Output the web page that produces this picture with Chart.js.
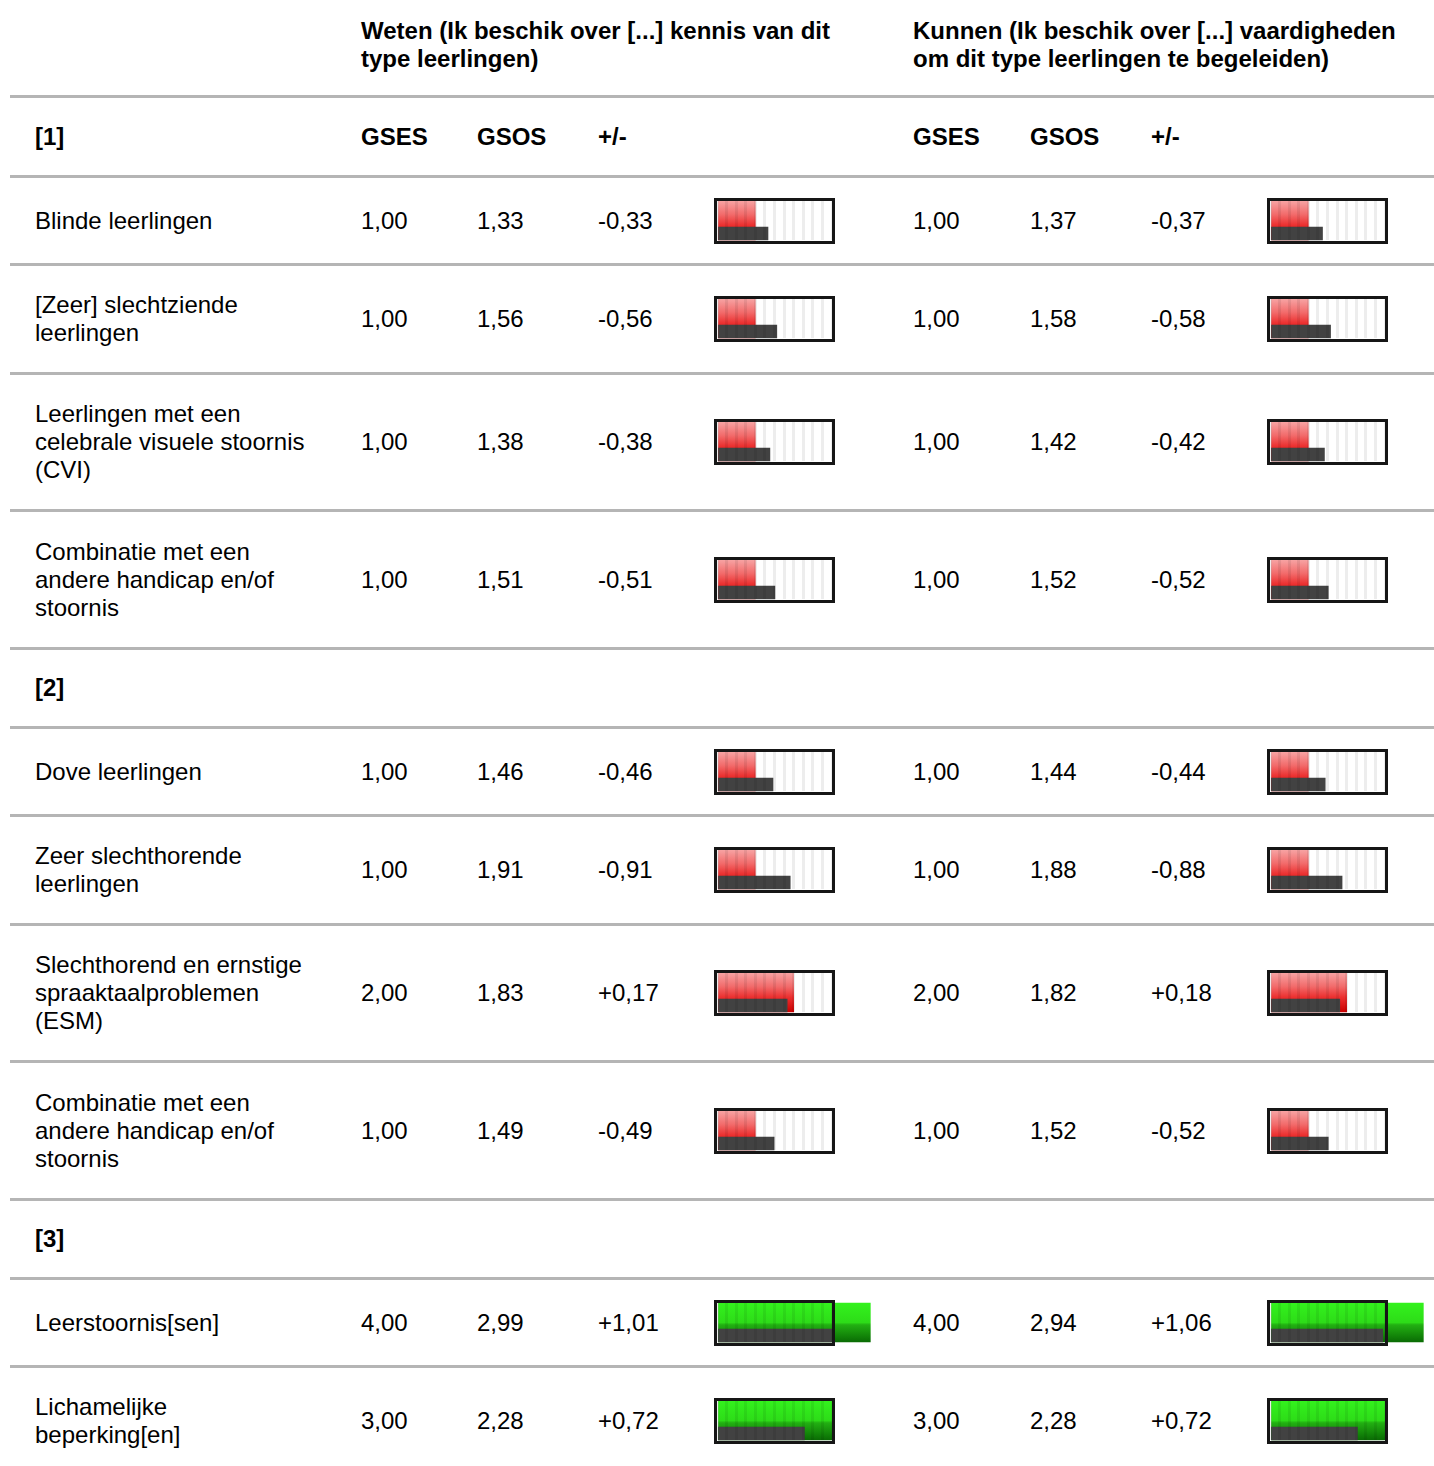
<!DOCTYPE html>
<html>
<head>
<meta charset="utf-8">
<script src="https://cdn.jsdelivr.net/npm/chart.js@4.4.1/dist/chart.umd.min.js"></script>
<style>
  body { margin: 0; background: #fff; font-family: "Liberation Sans", Arial, sans-serif; font-size: 24px; color: #000; }
  #tbl { margin-left: 10px; width: 1424px; }
  .row { display: flex; align-items: center; box-sizing: border-box; border-bottom: 3px solid #b5b5b5; }
  .row > div { flex: none; white-space: pre-line; }
  .b { font-weight: bold; }
  .lab { width: 326px; padding-left: 25px; }
  .w116 { width: 116px; } .w117 { width: 117px; } .w121 { width: 121px; }
  .ch1 { width: 199px; } .ch2 { width: 167px; }
  canvas { display: block; }
</style>
</head>
<body>
<div id="tbl"></div>
<script>
// data
const sectionTitles = [
  'Weten (Ik beschik over [...] kennis van dit\ntype leerlingen)',
  'Kunnen (Ik beschik over [...] vaardigheden\nom dit type leerlingen te begeleiden)'
];
const columnHeads = ['GSES', 'GSOS', '+/-'];
const groups = ['[1]', '[2]', '[3]'];
const groupOf = [0, 0, 0, 0, 1, 1, 1, 1, 2, 2];
const categories = [
  'Blinde leerlingen',
  '[Zeer] slechtziende\nleerlingen',
  'Leerlingen met een\ncelebrale visuele stoornis\n(CVI)',
  'Combinatie met een\nandere handicap en/of\nstoornis',
  'Dove leerlingen',
  'Zeer slechthorende\nleerlingen',
  'Slechthorend en ernstige\nspraaktaalproblemen\n(ESM)',
  'Combinatie met een\nandere handicap en/of\nstoornis',
  'Leerstoornis[sen]',
  'Lichamelijke\nbeperking[en]'
];
const wetenGSES  = [1.00, 1.00, 1.00, 1.00, 1.00, 1.00, 2.00, 1.00, 4.00, 3.00];
const wetenGSOS  = [1.33, 1.56, 1.38, 1.51, 1.46, 1.91, 1.83, 1.49, 2.99, 2.28];
const kunnenGSES = [1.00, 1.00, 1.00, 1.00, 1.00, 1.00, 2.00, 1.00, 4.00, 3.00];
const kunnenGSOS = [1.37, 1.58, 1.42, 1.52, 1.44, 1.88, 1.82, 1.52, 2.94, 2.28];
const scaleMax = 3;

const fmt = v => v.toFixed(2).replace('.', ',');
const fmtDiff = d => (d > 0 ? '+' : '') + fmt(d);

function barGradient(chart, good) {
  const a = chart.chartArea;
  if (!a) return good ? '#22cc11' : '#ee3333';
  const g = chart.ctx.createLinearGradient(0, a.top, 0, a.bottom);
  if (good) {
    g.addColorStop(0, '#33f21d');
    g.addColorStop(0.5, '#2ddc18');
    g.addColorStop(0.56, '#22b012');
    g.addColorStop(1, '#0a6c04');
  } else {
    g.addColorStop(0, '#f7a3a3');
    g.addColorStop(0.35, '#f26a6a');
    g.addColorStop(0.62, '#ec3030');
    g.addColorStop(1, '#cc0000');
  }
  return g;
}

const frame = {
  id: 'frame',
  afterDraw(chart) {
    const a = chart.chartArea, c = chart.ctx;
    c.save();
    c.strokeStyle = '#161616';
    c.lineWidth = 3;
    c.strokeRect(a.left - 1.5, a.top - 1.5, a.right - a.left + 3, a.bottom - a.top + 4);
    c.restore();
  }
};

// hidden index axis that still builds its ticks (needed for bar thickness)
const hiddenCat = labels => ({
  type: 'category', labels, min: labels[0], max: labels[labels.length - 1],
  ticks: { display: false }, grid: { display: false }, border: { display: false },
  afterFit: s => { s.width = 0; }
});

function miniChart(canvas, gses, gsos) {
  const good = gses >= 3;
  new Chart(canvas, {
    type: 'bar',
    data: {
      datasets: [
        { data: [{ x: gsos, y: 'c' }], yAxisID: 'y2', backgroundColor: '#424242', order: 0 },
        { data: [{ x: gses, y: 'r' }], yAxisID: 'y', backgroundColor: ctx => barGradient(ctx.chart, good), order: 1 }
      ]
    },
    options: {
      indexAxis: 'y',
      responsive: false,
      animation: false,
      events: [],
      layout: { padding: { left: 3, top: 3, right: 47, bottom: 4 } },
      plugins: { legend: { display: false }, tooltip: { enabled: false } },
      datasets: { bar: { barPercentage: 1, categoryPercentage: 1, clip: false, borderWidth: 0, grouped: false } },
      scales: {
        x: {
          type: 'linear', min: 0, max: scaleMax,
          ticks: { display: false, stepSize: 0.25 },
          grid: { z: 1, color: 'rgba(0,0,0,0.07)', lineWidth: 3, drawTicks: false },
          border: { display: false },
          afterFit: s => { s.height = 0; }
        },
        y: hiddenCat(['r']),
        y2: hiddenCat(['a', 'b', 'c'])
      }
    },
    plugins: [frame]
  });
}

const tbl = document.getElementById('tbl');
function addRow(h, html, noBorder) {
  const r = document.createElement('div');
  r.className = 'row';
  r.style.height = h + 'px';
  if (noBorder) r.style.borderBottom = 'none';
  r.innerHTML = html;
  tbl.appendChild(r);
  return r;
}

addRow(98, '<div class="lab"></div>' +
  '<div class="b" style="width:552px;padding-bottom:6px">' + sectionTitles[0] + '</div>' +
  '<div class="b" style="width:521px;padding-bottom:6px">' + sectionTitles[1] + '</div>');

const heights = { 1: 88, 2: 109, 3: 137 };
let lastGroup = -1;
categories.forEach((cat, i) => {
  if (groupOf[i] !== lastGroup) {
    lastGroup = groupOf[i];
    const heads = i === 0
      ? '<div class="w116 b">' + columnHeads[0] + '</div><div class="w121 b">' + columnHeads[1] + '</div><div class="w116 b">' + columnHeads[2] + '</div><div class="ch1"></div>' +
        '<div class="w117 b">' + columnHeads[0] + '</div><div class="w121 b">' + columnHeads[1] + '</div><div class="w116 b">' + columnHeads[2] + '</div>'
      : '';
    addRow(i === 0 ? 80 : 79, '<div class="lab b">' + groups[lastGroup] + '</div>' + heads);
  }
  const lines = cat.split('\n').length;
  const last = i === categories.length - 1;
  const r = addRow(last ? 106 : heights[lines] + (lines === 3 && i % 4 === 3 ? 1 : 0),
    '<div class="lab">' + cat + '</div>' +
    '<div class="w116">' + fmt(wetenGSES[i]) + '</div>' +
    '<div class="w121">' + fmt(wetenGSOS[i]) + '</div>' +
    '<div class="w116">' + fmtDiff(wetenGSES[i] - wetenGSOS[i]) + '</div>' +
    '<div class="ch1"><canvas width="165" height="46"></canvas></div>' +
    '<div class="w117">' + fmt(kunnenGSES[i]) + '</div>' +
    '<div class="w121">' + fmt(kunnenGSOS[i]) + '</div>' +
    '<div class="w116">' + fmtDiff(kunnenGSES[i] - kunnenGSOS[i]) + '</div>' +
    '<div class="ch2"><canvas width="165" height="46"></canvas></div>', last);
  const cv = r.querySelectorAll('canvas');
  miniChart(cv[0], wetenGSES[i], wetenGSOS[i]);
  miniChart(cv[1], kunnenGSES[i], kunnenGSOS[i]);
});
</script>
</body>
</html>
